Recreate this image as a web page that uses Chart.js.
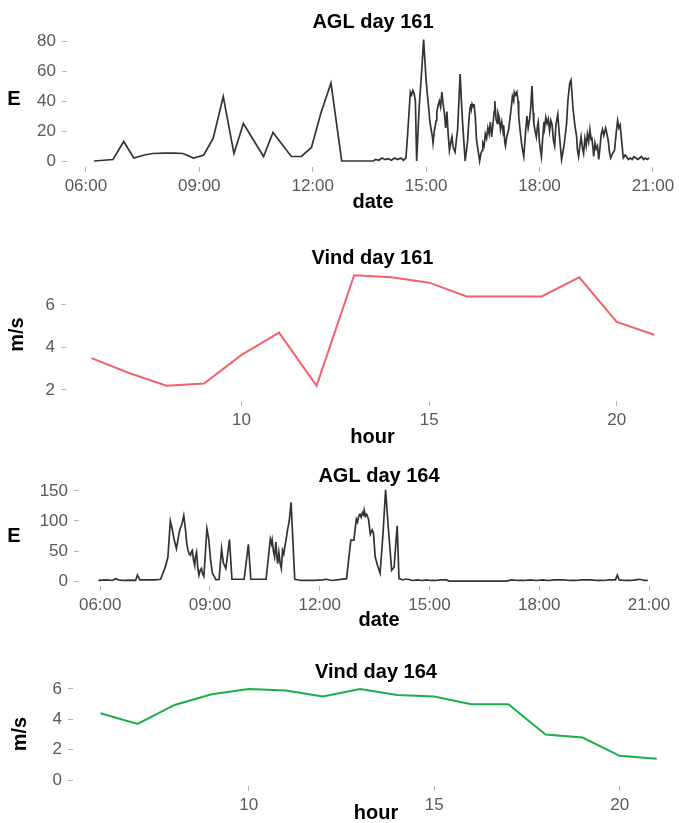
<!DOCTYPE html>
<html>
<head>
<meta charset="utf-8">
<script src="https://cdn.jsdelivr.net/npm/chart.js@4.4.1/dist/chart.umd.min.js"></script>
<style>
  html, body { margin: 0; padding: 0; background: #fff; overflow: hidden; }
  body { width: 679px; height: 823px; position: relative; }
  canvas { position: absolute; left: 0; }
</style>
</head>
<body>
<canvas id="agl161" width="679" height="215" style="top:0px"></canvas>
<canvas id="vind161" width="679" height="220" style="top:230px"></canvas>
<canvas id="agl164" width="679" height="185" style="top:450px"></canvas>
<canvas id="vind164" width="679" height="180" style="top:645px"></canvas>
<script>
// AGL readings, day 161
const agl161Time = [
  '06:13','06:43','07:00','07:16','07:33','07:46','08:05','08:20','08:34','08:51',
  '09:07','09:22','09:38','09:55','10:10','10:42','10:57','11:26','11:42','11:58',
  '12:13','12:29','12:46','13:36','13:40','13:45','13:50','13:55','14:00','14:05',
  '14:10','14:15','14:20','14:24','14:28','14:31','14:35','14:37','14:39','14:41',
  '14:43','14:45','14:49','14:53','14:56','15:00','15:02','15:04','15:06','15:08',
  '15:10','15:11','15:13','15:16','15:17','15:19','15:21','15:23','15:25','15:27',
  '15:29','15:31','15:33','15:35','15:37','15:39','15:41','15:43','15:46','15:48',
  '15:50','15:54','15:56','15:58','16:02','16:06','16:08','16:10','16:11','16:12',
  '16:13','16:15','16:16','16:18','16:20','16:25','16:27','16:29','16:30','16:32',
  '16:34','16:36','16:38','16:40','16:42','16:44','16:46','16:48','16:49','16:51',
  '16:53','16:54','16:56','16:58','17:00','17:02','17:03','17:05','17:06','17:08',
  '17:11','17:15','17:17','17:19','17:20','17:22','17:24','17:26','17:27','17:29',
  '17:32','17:35','17:38','17:40','17:42','17:44','17:46','17:48','17:50','17:51',
  '17:53','17:55','17:57','17:58','18:00','18:03','18:05','18:07','18:08','18:10',
  '18:12','18:14','18:16','18:18','18:20','18:22','18:24','18:26','18:29','18:31',
  '18:35','18:38','18:40','18:43','18:45','18:48','18:50','18:53','18:56','18:59',
  '19:00','19:02','19:04','19:06','19:08','19:10','19:12','19:14','19:16','19:18',
  '19:20','19:22','19:23','19:25','19:26','19:28','19:30','19:32','19:34','19:36',
  '19:38','19:40','19:42','19:45','19:47','19:49','19:51','19:53','19:56','19:59',
  '20:02','20:04','20:06','20:08','20:10','20:13','20:16','20:18','20:21','20:24',
  '20:27','20:30','20:33','20:36','20:39','20:42','20:45','20:48','20:51','20:54'];
const agl161E = [
  0,1,13,2,4,5,5.3,5.3,5,2,
  4,15,43,5,25,3,19,3,3,9,
  32,52,0,0,1,0.5,2,1,1.5,0.5,
  2,1,2,0.5,2,20,46,44,47,45,
  40,0,36,60,81,54,44,36,26,21,
  16,12,20,27,33,37,40,36,46,38,
  32,22,33,18,7,12,16,9,6,14,
  21,58,40,25,0,14,28,36,38,35,
  38,36,38,30,14,0,5,7,12,10,
  18,15,22,18,26,16,24,33,40,28,
  25,32,29,21,26,20,24,12,10,16,
  21,35,43,40,46,44,46,40,30,21,
  10,3,20,30,22,27,35,50,32,25,
  20,16,24,26,12,3,15,26,22,29,
  25,28,20,27,24,14,10,24,31,20,
  1,8,14,25,40,52,54,36,24,16,
  8,3,10,16,9,5,15,10,18,13,
  21,14,16,8,3,12,8,10,1,9,
  18,21,17,22,18,14,6,2,5,7,
  20,27,22,24,15,2,4,3,1,2,
  1,3,2,1,2,3,1,2,1,2];

// AGL readings, day 164
const agl164Time = [
  '05:57','06:10','06:20','06:25','06:30','06:38','06:50','06:58','07:01','07:05',
  '07:30','07:39','07:47','07:51','07:55','07:58','08:01','08:03','08:05','08:07',
  '08:09','08:11','08:14','08:17','08:20','08:22','08:24','08:26','08:28','08:29',
  '08:31','08:33','08:35','08:36','08:38','08:40','08:42','08:44','08:46','08:48',
  '08:50','08:55','08:58','09:01','09:04','09:10','09:15','09:19','09:22','09:26',
  '09:32','09:36','09:56','10:03','10:07','10:32','10:39','10:41','10:42','10:44',
  '10:46','10:48','10:50','10:51','10:53','10:55','10:57','10:59','11:01','11:03',
  '11:05','11:07','11:10','11:13','11:19','11:30','11:50','12:05','12:11','12:20',
  '12:44','12:51','12:56','13:00','13:02','13:04','13:06','13:08','13:10','13:12',
  '13:13','13:15','13:17','13:20','13:23','13:26','13:28','13:31','13:35','13:39',
  '13:44','13:48','13:52','13:58','14:02','14:07','14:10','14:13','14:16','14:20',
  '14:25','14:32','14:40','14:47','14:55','15:02','15:10','15:18','15:28','15:32',
  '17:06','17:15','17:25','17:35','17:45','17:55','18:05','18:15','18:25','18:40',
  '18:50','19:00','19:10','19:25','19:35','19:45','19:55','20:05','20:08','20:11',
  '20:20','20:30','20:38','20:45','20:52','20:58'];
const agl164E = [
  1,2,1,4,2,1,1.5,1,10,2,
  2,3,24,40,100,87,70,62,54,66,
  78,87,95,109,84,62,51,45,43,48,
  51,35,26,40,48,22,10,18,21,12,
  8,87,70,35,13,2,3,54,30,21,
  69,3,3,61,3,3,70,62,68,50,
  40,65,38,29,48,30,21,51,45,59,
  70,84,100,131,3,1,1,2,3,1,
  4,68,68,103,98,108,111,106,114,110,
  118,108,111,103,78,85,81,40,25,13,
  82,152,95,18,23,92,4,3,2,3,
  3,1,2,1,2,1,1,2,2,0,
  0,2,1,1,2,1,2,1,2,2,
  1,1,2,2,1,1,2,2,10,2,
  1,1,2,3,1,1];

// hourly wind speed (m/s)
const windHours = [6,7,8,9,10,11,12,13,14,15,16,17,18,19,20,21];
const vind161 = [3.5,2.8,2.2,2.3,3.65,4.7,2.2,7.4,7.3,7.05,6.4,6.4,6.4,7.3,5.2,4.6];
const vind164 = [4.4,3.7,4.95,5.65,6.0,5.9,5.5,6.0,5.6,5.5,5.0,5.0,3.0,2.8,1.6,1.4];

// tick marks
const timeTicks = [6,9,12,15,18,21];
const timeTickLabels = ['06:00','09:00','12:00','15:00','18:00','21:00'];
const hourTicks = [10,15,20];
const agl161YTicks = [0,20,40,60,80];
const agl164YTicks = [0,50,100,150];
const vind161YTicks = [2,4,6];
const vind164YTicks = [0,2,4,6];

const FONT = '"Liberation Sans", Arial, Helvetica, sans-serif';

function toHours(hhmm) {
  const [h, m] = hhmm.split(':').map(Number);
  return h + m / 60;
}

// the "E" label sits upright, so it is drawn by hand
const uprightYTitle = {
  id: 'uprightYTitle',
  afterDraw(chart, args, opts) {
    if (!opts.text) return;
    const {ctx, chartArea} = chart;
    ctx.save();
    ctx.font = 'bold 20px ' + FONT;
    ctx.fillStyle = '#000';
    ctx.textAlign = 'center';
    ctx.textBaseline = 'middle';
    ctx.fillText(opts.text, opts.x, (chartArea.top + chartArea.bottom) / 2);
    ctx.restore();
  }
};

const tickGrid = {
  drawOnChartArea: false,
  drawTicks: true,
  tickLength: 5,
  color: '#b5b5b5',
  tickColor: '#b5b5b5'
};

function panel(id, cfg) {
  return new Chart(document.getElementById(id), {
    type: 'line',
    data: {
      datasets: [{
        data: cfg.points,
        borderColor: cfg.color,
        borderWidth: cfg.lineWidth,
        pointRadius: 0,
        tension: 0,
        fill: false
      }]
    },
    options: {
      responsive: false,
      animation: false,
      devicePixelRatio: 1,
      layout: { padding: { top: 0, left: 0, right: 0, bottom: 0 } },
      plugins: {
        legend: { display: false },
        tooltip: { enabled: false },
        title: {
          display: true,
          fullSize: false,
          text: cfg.title,
          color: '#000',
          font: { family: FONT, size: 20, weight: 'bold', lineHeight: 1 },
          padding: { top: cfg.titleTop, bottom: cfg.titleBottom }
        },
        uprightYTitle: { text: cfg.uprightY, x: 14 }
      },
      scales: {
        x: {
          type: 'linear',
          min: cfg.xMin,
          max: cfg.xMax,
          bounds: 'data',
          afterBuildTicks: axis => { axis.ticks = cfg.xTicks.map(v => ({value: v})); },
          afterFit: axis => { axis.height = cfg.xHeight; },
          ticks: {
            autoSkip: false,
            maxRotation: 0,
            padding: 4,
            color: '#595959',
            font: { family: FONT, size: 17 },
            callback: cfg.xLabel
          },
          grid: tickGrid,
          border: { display: false },
          title: {
            display: true,
            text: cfg.xTitle,
            color: '#000',
            font: { family: FONT, size: 20, weight: 'bold', lineHeight: 1.2 },
            padding: { top: 0, bottom: cfg.xTitlePad }
          }
        },
        y: {
          min: cfg.yMin,
          max: cfg.yMax,
          bounds: 'data',
          afterBuildTicks: axis => { axis.ticks = cfg.yTicks.map(v => ({value: v})); },
          afterFit: axis => { axis.width = cfg.left; },
          ticks: {
            autoSkip: false,
            padding: 6,
            color: '#595959',
            font: { family: FONT, size: 17 }
          },
          grid: tickGrid,
          border: { display: false },
          title: {
            display: !!cfg.yTitle,
            text: cfg.yTitle,
            color: '#000',
            font: { family: FONT, size: 20, weight: 'bold', lineHeight: 1.2 },
            padding: { top: cfg.yTitlePad || 0, bottom: 0 }
          }
        }
      }
    },
    plugins: [uprightYTitle]
  });
}

const timeLabel = value => timeTickLabels[timeTicks.indexOf(value)];
const hourLabel = value => String(value);

panel('agl161', {
  title: 'AGL day 161',
  points: agl161Time.map((t, i) => ({x: toHours(t), y: agl161E[i]})),
  color: '#333333', lineWidth: 1.7,
  titleTop: 12, titleBottom: 0,
  left: 67, xMin: 5.5, xMax: 21.69, xTicks: timeTicks, xLabel: timeLabel,
  xHeight: 48, xTitle: 'date', xTitlePad: 1,
  yMin: -4, yMax: 86, yTicks: agl161YTicks, uprightY: 'E'
});

panel('vind161', {
  title: 'Vind day 161',
  points: windHours.map((h, i) => ({x: h, y: vind161[i]})),
  color: '#f2626a', lineWidth: 2,
  titleTop: 18, titleBottom: 0,
  left: 66, xMin: 5.32, xMax: 21.66, xTicks: hourTicks, xLabel: hourLabel,
  xHeight: 49, xTitle: 'hour', xTitlePad: 1,
  yMin: 1.48, yMax: 7.74, yTicks: vind161YTicks, yTitle: 'm/s', yTitlePad: 5
});

panel('agl164', {
  title: 'AGL day 164',
  points: agl164Time.map((t, i) => ({x: toHours(t), y: agl164E[i]})),
  color: '#333333', lineWidth: 1.7,
  titleTop: 16, titleBottom: 0,
  left: 79, xMin: 5.42, xMax: 21.82, xTicks: timeTicks, xLabel: timeLabel,
  xHeight: 49, xTitle: 'date', xTitlePad: 3,
  yMin: -8.2, yMax: 158.2, yTicks: agl164YTicks, uprightY: 'E'
});

panel('vind164', {
  title: 'Vind day 164',
  points: windHours.map((h, i) => ({x: h, y: vind164[i]})),
  color: '#1aaf48', lineWidth: 2,
  titleTop: 17, titleBottom: 0,
  left: 73, xMin: 5.26, xMax: 21.6, xTicks: hourTicks, xLabel: hourLabel,
  xHeight: 39, xTitle: 'hour', xTitlePad: 0,
  yMin: -0.39, yMax: 6.46, yTicks: vind164YTicks, yTitle: 'm/s', yTitlePad: 8
});
</script>
</body>
</html>
